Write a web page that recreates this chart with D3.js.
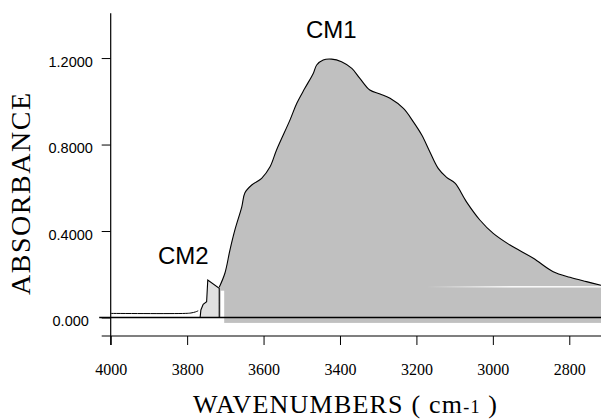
<!DOCTYPE html>
<html>
<head>
<meta charset="utf-8">
<script src="https://cdn.jsdelivr.net/npm/d3@7"></script>
<style>
  body { margin: 0; background: #fff; }
  svg { display: block; }
</style>
</head>
<body>
<svg id="chart" width="601" height="419"></svg>
<script>
// main band (CM1)
const wavenumbers = [3716, 3701, 3688, 3675, 3657, 3649, 3631, 3605, 3583, 3566, 3531, 3513, 3492, 3470, 3461, 3444,
    3422, 3396, 3369, 3348, 3322, 3295, 3269, 3234, 3208, 3186, 3165, 3143, 3121, 3099, 3069, 3034, 2999, 2955,
    2894, 2842, 2798, 2755, 2717];
const absorbance = [0.140, 0.206, 0.312, 0.405, 0.512, 0.576, 0.613, 0.644, 0.697, 0.775, 0.913, 0.991, 1.060, 1.129, 1.168, 1.191,
    1.195, 1.183, 1.152, 1.106, 1.052, 1.034, 1.014, 0.967, 0.905, 0.844, 0.767, 0.690, 0.648, 0.621, 0.535, 0.451, 0.389, 0.335,
    0.274, 0.212, 0.186, 0.166, 0.149];

// small band (CM2)
const cm2Wn = [3766, 3764, 3758, 3749, 3746, 3716, 3716];
const cm2Abs = [0, 0.035, 0.061, 0.073, 0.173, 0.135, 0];

// flat part of the spectrum left of CM2
const baseWn = [4000, 3805, 3790, 3778, 3771];
const baseAbs = [0.019, 0.019, 0.021, 0.026, 0.031];

const xTicks = [4000, 3800, 3600, 3400, 3200, 3000, 2800];
const yTicks = [0, 0.4, 0.8, 1.2];
const yTickLabels = ['0.000', '0.4000', '0.8000', '1.2000'];

const svg = d3.select('#chart');

const x = d3.scaleLinear().domain([4000, 2717]).range([110.7, 601]);
const y = d3.scaleLinear().domain([-0.0855, 1.407]).range([336, 13.3]);

const cm1 = wavenumbers.map((w, i) => [w, absorbance[i]]);
const cm2 = cm2Wn.map((w, i) => [w, cm2Abs[i]]);
const base = baseWn.map((w, i) => [w, baseAbs[i]]);

const area = d3.area()
    .x(d => x(d[0]))
    .y0(y(0))
    .y1(d => y(d[1]))
    .curve(d3.curveCatmullRom);
const line = d3.line()
    .x(d => x(d[0]))
    .y(d => y(d[1]))
    .curve(d3.curveCatmullRom);

// grey fill, also a thin strip under the zero line
svg.append('path').attr('d', area(cm1)).attr('fill', '#c0c0c0');
svg.append('rect')
    .attr('x', x(3703)).attr('y', y(0))
    .attr('width', x(2717) - x(3703)).attr('height', y(-0.025) - y(0))
    .attr('fill', '#c0c0c0');
svg.append('rect')
    .attr('x', x(3712)).attr('y', y(0.124))
    .attr('width', x(3703) - x(3712)).attr('height', y(0) - y(0.124))
    .attr('fill', '#fff');

// white streak in the fill (scan artifact)
const grad = svg.append('defs').append('linearGradient')
    .attr('id', 'streak').attr('gradientUnits', 'userSpaceOnUse')
    .attr('x1', x(3172)).attr('x2', x(2950)).attr('y1', 0).attr('y2', 0);
grad.append('stop').attr('offset', 0).attr('stop-color', '#fff').attr('stop-opacity', 0);
grad.append('stop').attr('offset', 1).attr('stop-color', '#fff').attr('stop-opacity', 1);
svg.append('rect')
    .attr('x', x(3172)).attr('y', y(0.142) - 0.7)
    .attr('width', x(2717) - x(3172)).attr('height', 1.4)
    .attr('fill', 'url(#streak)');

svg.append('path').attr('d', line(cm1))
    .attr('fill', 'none').attr('stroke', '#000').attr('stroke-width', 1.1);

svg.append('path').attr('d', d3.line().x(d => x(d[0])).y(d => y(d[1]))(cm2))
    .attr('fill', '#e0e0e0').attr('stroke', '#000').attr('stroke-width', 1.1);

svg.append('path').attr('d', line(base))
    .attr('fill', 'none').attr('stroke', '#000').attr('stroke-width', 1);

// zero line
svg.append('line')
    .attr('x1', x(4000) - 11.5).attr('x2', x(2717))
    .attr('y1', y(0)).attr('y2', y(0))
    .attr('stroke', '#000').attr('stroke-width', 1.6);

// axes
const yAxis = svg.append('g')
    .attr('transform', `translate(${x(4000)},0)`)
    .call(d3.axisLeft(y).tickValues(yTicks).tickSize(9).tickFormat((d, i) => yTickLabels[i]));
yAxis.select('.domain').remove();
yAxis.selectAll('text')
    .attr('x', -40).attr('dy', '0.55em')
    .attr('text-anchor', 'middle')
    .attr('font-family', 'Liberation Sans, Arial, sans-serif')
    .attr('font-size', 14.5).attr('fill', '#000');

const xAxis = svg.append('g')
    .attr('transform', `translate(0,${y(-0.0855)})`)
    .call(d3.axisBottom(x).tickValues(xTicks).tickSize(9).tickPadding(18.8).tickFormat(d => d));
xAxis.select('.domain').remove();
xAxis.selectAll('text')
    .attr('font-family', 'Liberation Serif, Times New Roman, serif')
    .attr('font-size', 16).attr('fill', '#000');

svg.append('line')
    .attr('x1', x(4000)).attr('x2', x(4000))
    .attr('y1', y(1.407)).attr('y2', y(-0.0855) + 9)
    .attr('stroke', '#000').attr('stroke-width', 1.2);
svg.append('line')
    .attr('x1', x(4000) - 9).attr('x2', x(2717))
    .attr('y1', y(-0.0855)).attr('y2', y(-0.0855))
    .attr('stroke', '#000').attr('stroke-width', 1.2);

// titles
const xt = svg.append('text')
    .attr('x', 193).attr('y', 413)
    .attr('font-family', 'Liberation Serif, Times New Roman, serif')
    .attr('font-size', 26).attr('fill', '#000')
    .attr('textLength', 304).attr('lengthAdjust', 'spacing');
xt.append('tspan').text('WAVENUMBERS ( cm');
xt.append('tspan').attr('font-size', 18).text('-1');
xt.append('tspan').text(' )');

svg.append('text')
    .attr('transform', 'translate(30,194) rotate(-90)')
    .attr('text-anchor', 'middle')
    .attr('font-family', 'Liberation Serif, Times New Roman, serif')
    .attr('font-size', 28).attr('fill', '#000')
    .attr('textLength', 202).attr('lengthAdjust', 'spacing')
    .text('ABSORBANCE');

svg.append('text')
    .attr('x', 306).attr('y', 38)
    .attr('font-family', 'Liberation Sans, Arial, sans-serif')
    .attr('font-size', 24).attr('fill', '#000')
    .text('CM1');
svg.append('text')
    .attr('x', 158).attr('y', 264)
    .attr('font-family', 'Liberation Sans, Arial, sans-serif')
    .attr('font-size', 24).attr('fill', '#000')
    .text('CM2');
</script>
</body>
</html>
